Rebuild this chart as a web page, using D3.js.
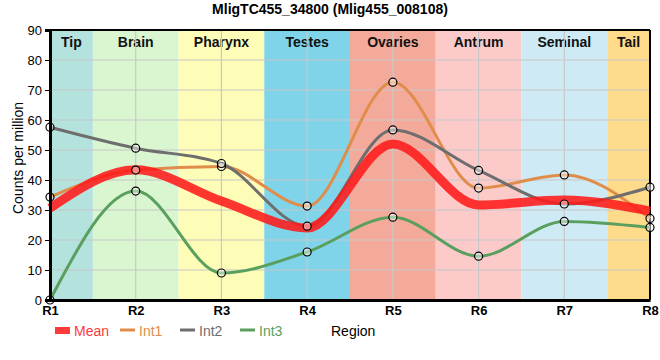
<!DOCTYPE html>
<html><head><meta charset="utf-8">
<script src="https://cdn.jsdelivr.net/npm/d3@7"></script>
<style>body{margin:0;background:#fff}text{font-family:"Liberation Sans",Arial,sans-serif}</style>
</head><body>
<svg id="c" width="660" height="360"></svg>
<script>
const regions = ["R1","R2","R3","R4","R5","R6","R7","R8"];
const bandNames = ["Tip","Brain","Pharynx","Testes","Ovaries","Antrum","Seminal","Tail"];
const bandColors = ["#b3e3dc","#d9f6d1","#fefdb7","#7fd4ea","#f4aa9b","#fdcaca","#ceeaf4","#fddb8b"];
const meanVals = [30.6, 43.4, 33.0, 24.0, 52.0, 31.7, 33.3, 29.6];
const int1 = [34.3, 43.3, 44.5, 31.3, 72.6, 37.3, 41.7, 27.2];
const int2 = [57.6, 50.6, 45.5, 24.6, 56.7, 43.2, 32.0, 37.6];
const int3 = [0.0, 36.3, 9.0, 16.0, 27.6, 14.6, 26.2, 24.2];
const yTicks = [0,10,20,30,40,50,60,70,80,90];
const title = "MligTC455_34800 (Mlig455_008108)";

const svg = d3.select("#c");
const L=50,R=650,T=30,B=300;
const x = d3.scalePoint().domain(regions).range([L,R]);
const y = d3.scaleLinear().domain([0,90]).range([B,T]);
const step = x.step();

// bands
const g = svg.append("g");
regions.forEach((r,i)=>{
  const x0 = Math.max(L, x(r)-step/2), x1 = Math.min(R, x(r)+step/2);
  g.append("rect").attr("x",x0).attr("y",T).attr("width",x1-x0).attr("height",B-T).attr("fill",bandColors[i]);
  g.append("text").attr("x",(x0+x1)/2).attr("y",T+17).attr("text-anchor","middle")
   .attr("font-size",14).attr("font-weight","bold").attr("fill","#111").text(bandNames[i]);
});
// grid
svg.append("g").selectAll("line.h").data(yTicks.slice(1)).join("line")
  .attr("x1",L).attr("x2",R).attr("y1",d=>y(d)).attr("y2",d=>y(d)).attr("stroke","#c8c8c8").attr("stroke-width",1.2);
svg.append("g").selectAll("line.v").data(regions).join("line")
  .attr("x1",d=>x(d)).attr("x2",d=>x(d)).attr("y1",T).attr("y2",B).attr("stroke","#c8c8c8").attr("stroke-width",1.2);
// frame
svg.append("line").attr("x1",L).attr("x2",R).attr("y1",T).attr("y2",T).attr("stroke","#000").attr("stroke-width",2);
svg.append("line").attr("x1",R).attr("x2",R).attr("y1",T).attr("y2",B).attr("stroke","#000").attr("stroke-width",2);

const line = d3.line().x((d,i)=>x(regions[i])).y(d=>y(d)).curve(d3.curveMonotoneX);
const series = [
  {vals:int1,color:"#e08d4b",w:3},
  {vals:int2,color:"#6e6e6e",w:3},
  {vals:int3,color:"#5a9f5e",w:3}
];
series.forEach(s=>{
  svg.append("path").attr("d",line(s.vals)).attr("fill","none").attr("stroke",s.color).attr("stroke-width",s.w);
});
svg.append("path").attr("d",line(meanVals)).attr("fill","none").attr("stroke","#ff1a1a").attr("stroke-opacity",0.88).attr("stroke-width",9);
series.forEach(s=>{
  svg.append("g").selectAll("circle").data(s.vals).join("circle")
    .attr("cx",(d,i)=>x(regions[i])).attr("cy",d=>y(d)).attr("r",4)
    .attr("fill","#fff").attr("fill-opacity",0.45).attr("stroke","#000").attr("stroke-width",1.2);
});

// axes
const ya = svg.append("g").attr("transform",`translate(${L},0)`).call(d3.axisLeft(y).tickValues(yTicks).tickSize(5).tickPadding(3));
ya.select(".domain").attr("stroke-width",3);
ya.selectAll("text").attr("font-size",13).attr("fill","#000").style("font-family","'Liberation Sans',Arial,sans-serif");
const xa = svg.append("g").attr("transform",`translate(0,${B})`).call(d3.axisBottom(x).tickSize(0).tickPadding(6));
xa.select(".domain").attr("stroke-width",3);
xa.selectAll("text").attr("font-size",13).attr("font-weight","bold").attr("fill","#000").style("font-family","'Liberation Sans',Arial,sans-serif");

svg.append("text").attr("x",330).attr("y",14).attr("text-anchor","middle").attr("font-size",14).attr("font-weight","bold").text(title);
svg.append("text").attr("transform","translate(23,158) rotate(-90)").attr("text-anchor","middle").attr("font-size",14).text("Counts per million");
svg.append("text").attr("x",331).attr("y",336).attr("font-size",14).text("Region");

// legend
const leg = [
  {name:"Mean",color:"#ff3a3a",x:55,rect:true},
  {name:"Int1",color:"#e08d4b",x:120},
  {name:"Int2",color:"#6e6e6e",x:180},
  {name:"Int3",color:"#5a9f5e",x:240}
];
leg.forEach(l=>{
  if(l.rect) svg.append("rect").attr("x",l.x).attr("y",327).attr("width",15).attr("height",7).attr("fill",l.color);
  else svg.append("line").attr("x1",l.x).attr("x2",l.x+15).attr("y1",330).attr("y2",330).attr("stroke",l.color).attr("stroke-width",3);
  svg.append("text").attr("x",l.x+19).attr("y",336).attr("font-size",14).attr("fill",l.color).text(l.name);
});
</script>
</body></html>
